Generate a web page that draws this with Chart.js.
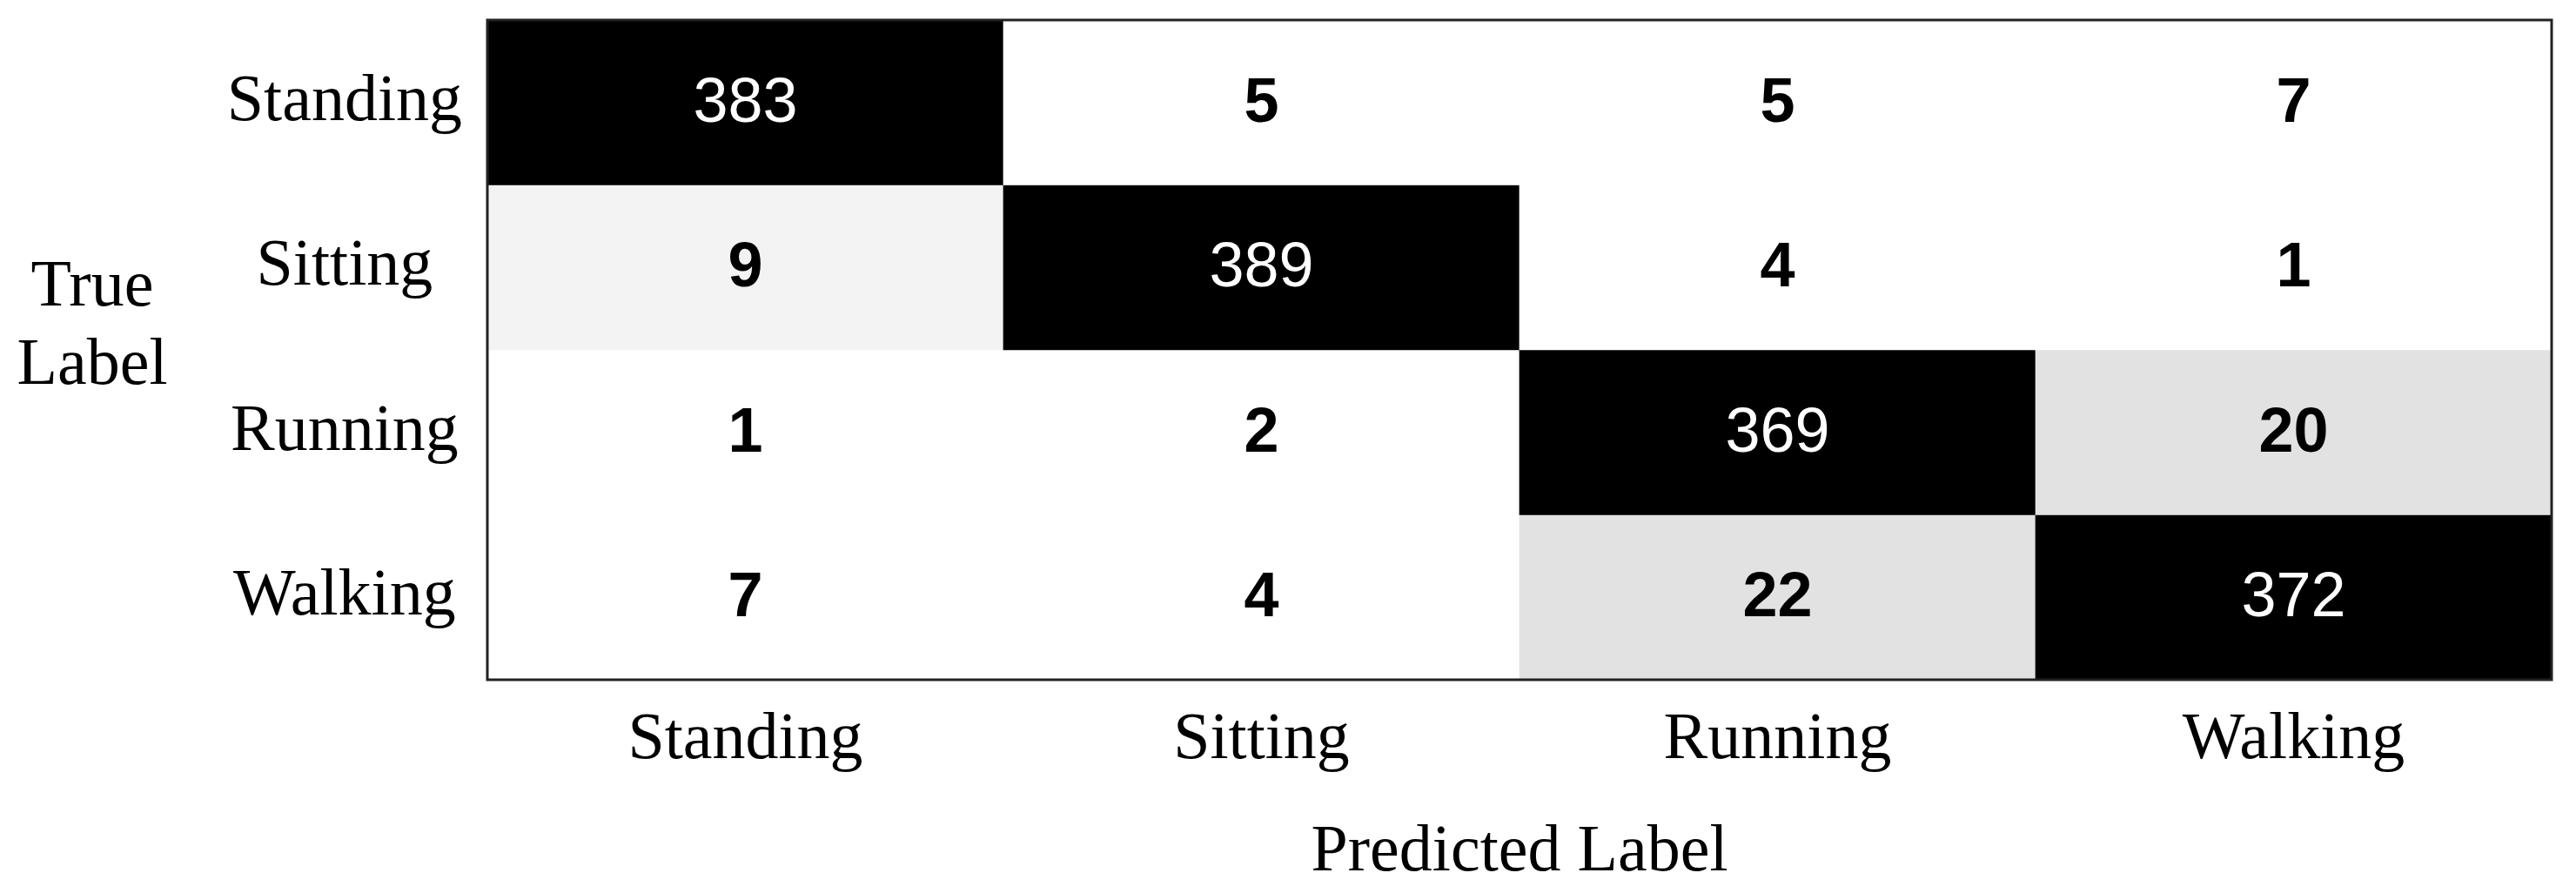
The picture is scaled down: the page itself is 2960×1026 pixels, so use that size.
<!DOCTYPE html>
<html>
<head>
<meta charset="utf-8">
<script src="https://cdn.jsdelivr.net/npm/chart.js@4/dist/chart.umd.min.js"></script>
<style>
  body { margin: 0; background: #fff; }
  canvas { display: block; }
</style>
</head>
<body>
<canvas id="confusionChart" width="2960" height="1026"></canvas>
<script>
// Labels des classes (axe X = prédit, axe Y = vrai)
const predictedLabels = ["Standing", "Sitting", "Running", "Walking"];
const trueLabels = ["Standing", "Sitting", "Running", "Walking"];

// Une ligne de la matrice par classe vraie
const standingRow = [383, 5, 5, 7];
const sittingRow = [9, 389, 4, 1];
const runningRow = [1, 2, 369, 20];
const walkingRow = [7, 4, 22, 372];

const rows = [standingRow, sittingRow, runningRow, walkingRow];

// Niveau de gris selon la valeur de la cellule
function cellColor(v) {
    if (v >= 300) return "#000000";
    if (v >= 15) return "#e2e2e2";
    if (v >= 8) return "#f3f3f3";
    return "#ffffff";
}

const serif = "'Liberation Serif', 'Times New Roman', serif";
const sans = "'Liberation Sans', Arial, sans-serif";

// Texte des valeurs au centre de chaque cellule
const cellText = {
    id: "cellText",
    afterDatasetsDraw(chart) {
        const ctx = chart.ctx;
        ctx.save();
        ctx.textAlign = "center";
        ctx.textBaseline = "middle";
        chart.data.datasets.forEach((ds, r) => {
            const meta = chart.getDatasetMeta(r);
            meta.data.forEach((bar, c) => {
                const v = ds.counts[c];
                const dark = v >= 300;
                ctx.fillStyle = dark ? "#ffffff" : "#000000";
                ctx.font = (dark ? "normal " : "bold ") + "72px " + sans;
                ctx.fillText(String(v), bar.x, (bar.y + bar.base) / 2 + 2);
            });
        });
        ctx.restore();
    }
};

// Cadre autour de la zone du graphique + titre "True Label" horizontal
const frameAndTitle = {
    id: "frameAndTitle",
    afterDraw(chart) {
        const ctx = chart.ctx;
        const a = chart.chartArea;
        ctx.save();
        ctx.strokeStyle = "#222222";
        ctx.lineWidth = 3;
        ctx.strokeRect(a.left, a.top, a.right - a.left, a.bottom - a.top);

        ctx.fillStyle = "#000000";
        ctx.font = "76px " + serif;
        ctx.textAlign = "center";
        ctx.textBaseline = "middle";
        const cy = (a.top + a.bottom) / 2 - 26;
        ctx.fillText("True", 106, cy - 45);
        ctx.fillText("Label", 106, cy + 45);
        ctx.restore();
    }
};

const datasets = rows.map((row, r) => ({
    label: trueLabels[r],
    counts: row,
    data: row.map(() => [r, r + 1]),
    backgroundColor: row.map(cellColor),
    borderWidth: 0,
    borderSkipped: false,
    barPercentage: 1,
    categoryPercentage: 1,
    grouped: false
}));

Chart.defaults.color = "#000000";

const ctx = document.getElementById("confusionChart").getContext("2d");
const chart = new Chart(ctx, {
    type: "bar",
    data: {
        labels: predictedLabels,
        datasets: datasets
    },
    options: {
        responsive: false,
        animation: false,
        layout: {
            padding: { top: 23, right: 28, left: 0, bottom: 0 }
        },
        plugins: {
            legend: { display: false },
            tooltip: { enabled: false },
            title: { display: false }
        },
        scales: {
            x: {
                type: "category",
                grid: { display: false, drawTicks: false },
                border: { display: false },
                ticks: {
                    font: { family: serif, size: 76 },
                    padding: 24,
                    maxRotation: 0
                },
                title: {
                    display: true,
                    text: "Predicted Label",
                    font: { family: serif, size: 76 },
                    padding: { top: 0, bottom: 0 }
                },
                afterFit: (axis) => {
                    axis.height = 245;
                    axis.paddingLeft = 0;
                    axis.paddingRight = 0;
                }
            },
            y: {
                type: "linear",
                min: 0,
                max: 4,
                reverse: true,
                grid: { display: false, drawTicks: false },
                border: { display: false },
                afterBuildTicks: (axis) => {
                    axis.ticks = trueLabels.map((_, i) => ({ value: i + 0.5 }));
                },
                ticks: {
                    font: { family: serif, size: 76 },
                    crossAlign: "center",
                    padding: 29,
                    callback: (value) => trueLabels[Math.floor(value)]
                },
                afterFit: (axis) => {
                    axis.width = 560;
                    axis.paddingTop = 0;
                    axis.paddingBottom = 0;
                }
            }
        }
    },
    plugins: [cellText, frameAndTitle]
});
</script>
</body>
</html>
